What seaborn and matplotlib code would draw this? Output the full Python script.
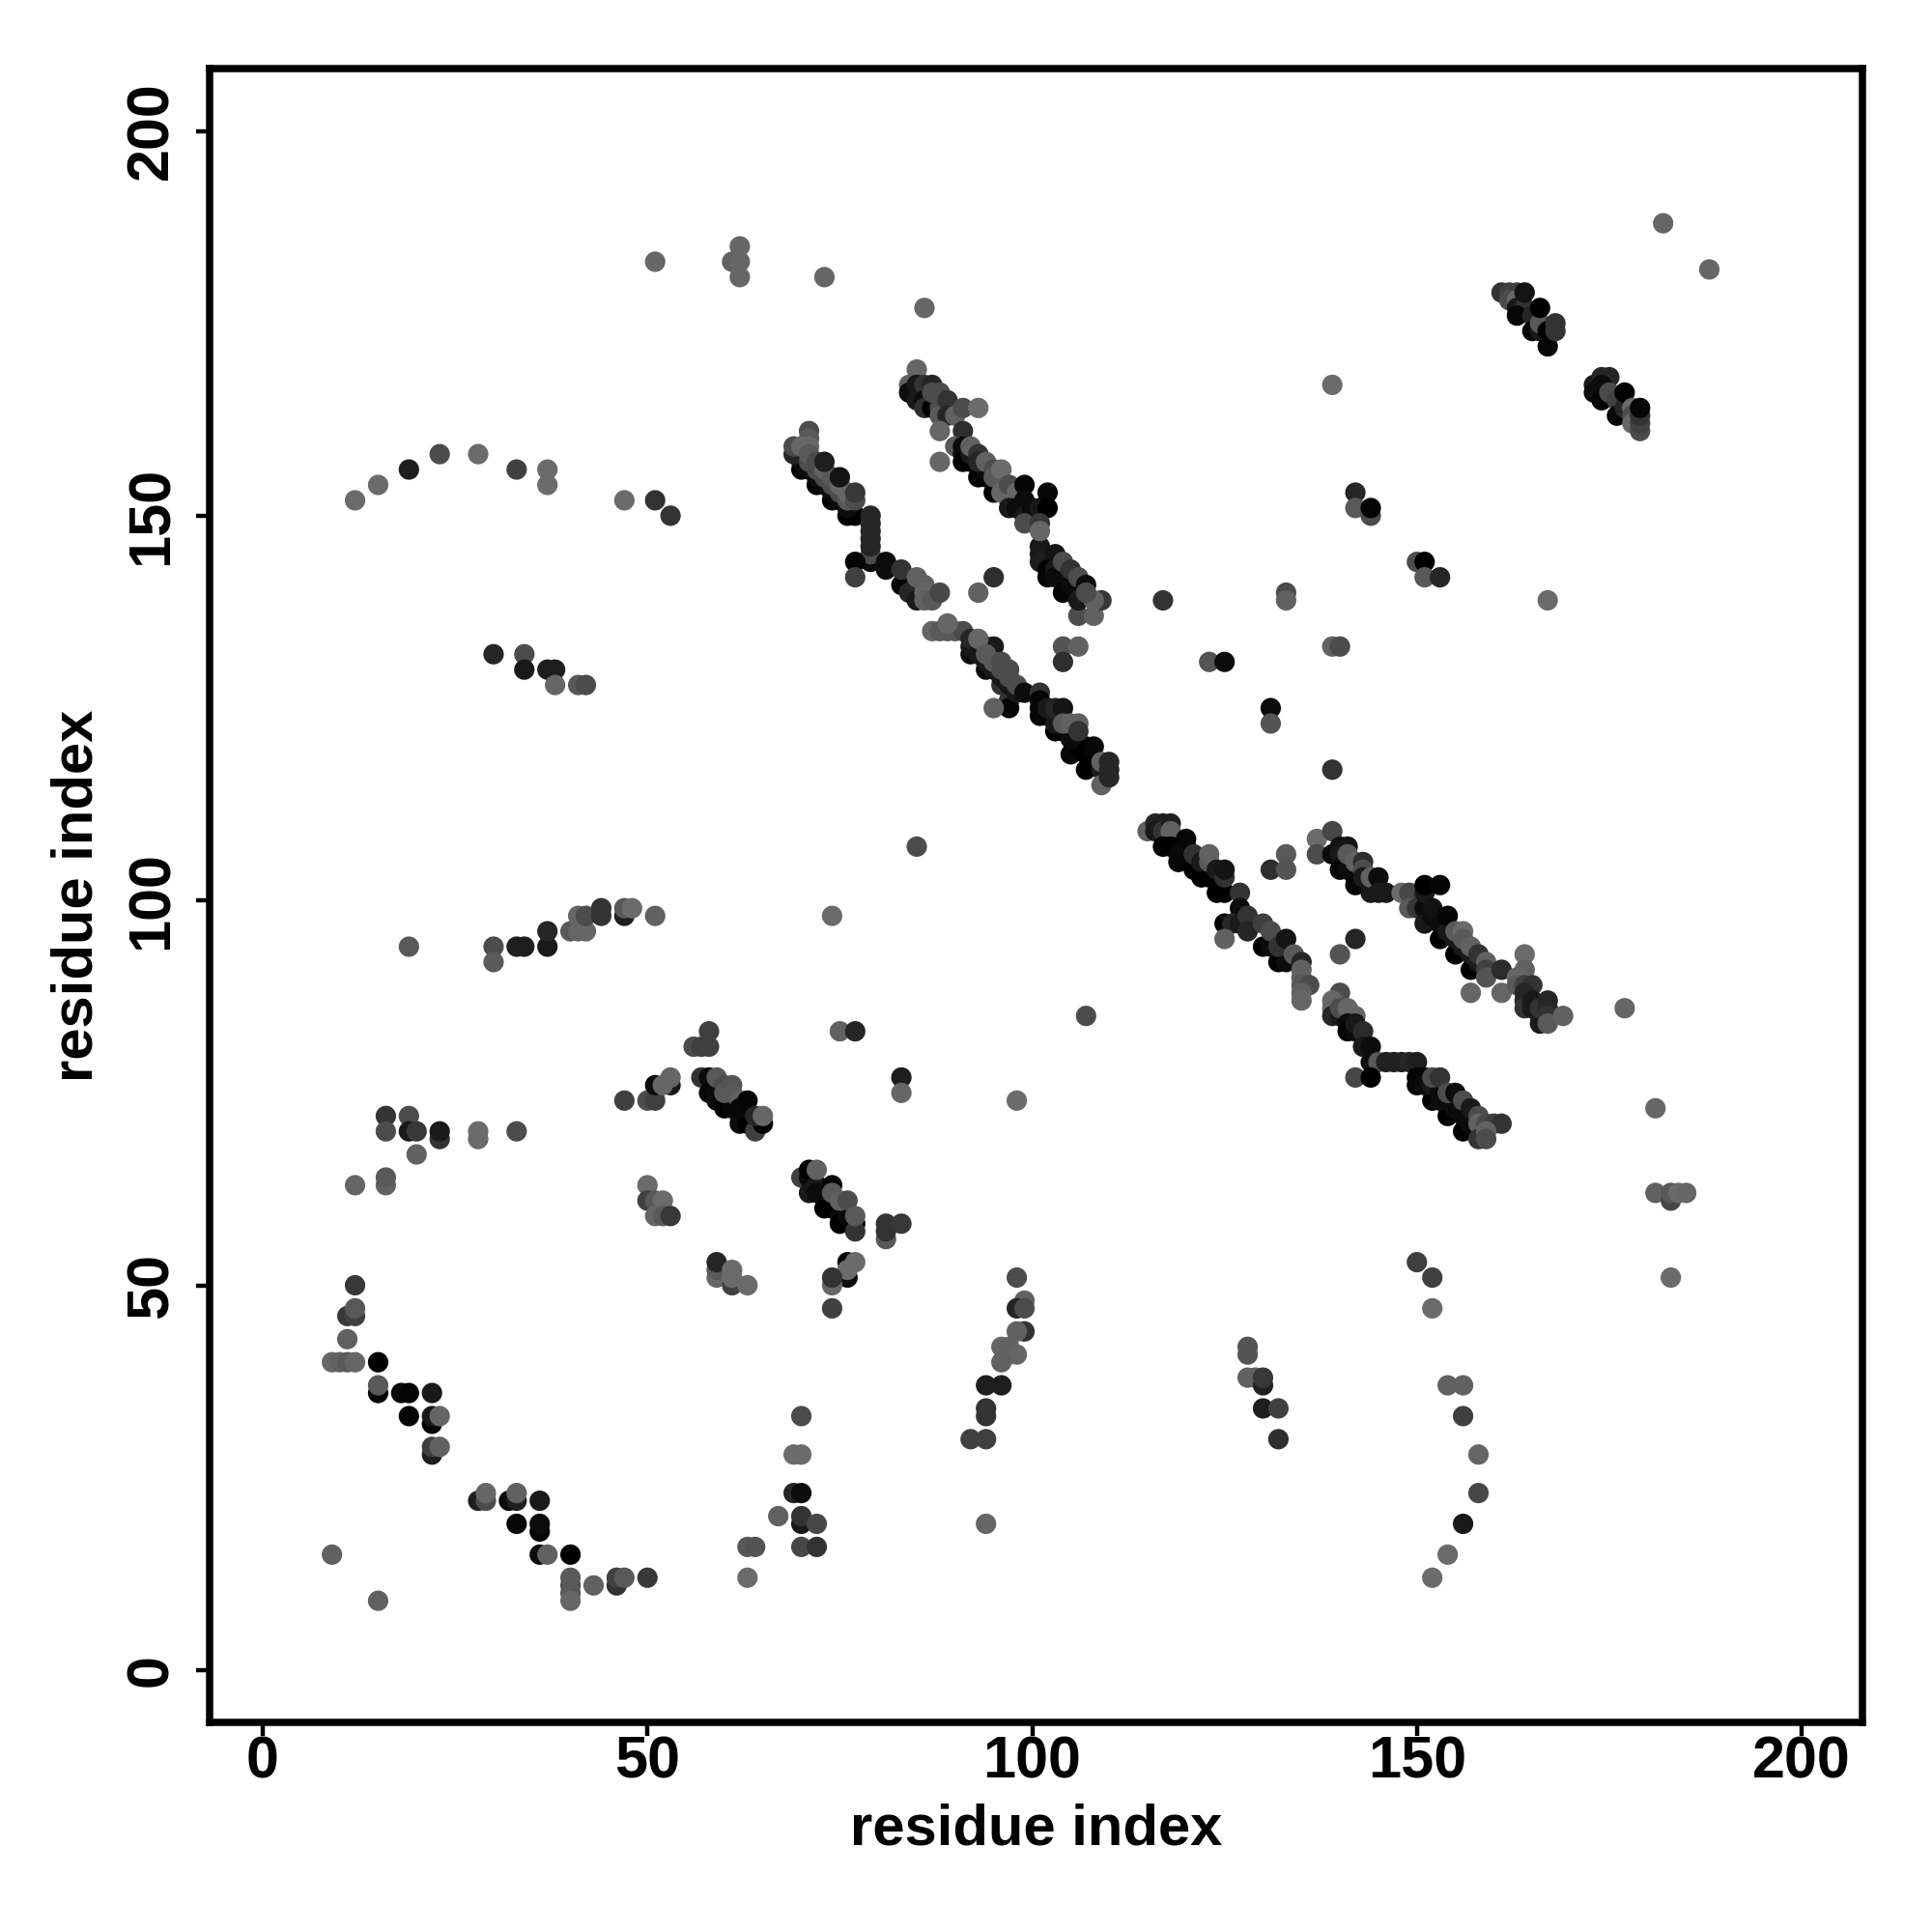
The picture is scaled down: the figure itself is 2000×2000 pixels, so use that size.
# contact map, residue index vs residue index
import matplotlib
matplotlib.use("Agg")
import matplotlib.pyplot as plt
import pandas as pd
import seaborn as sns

# every point is (residue x, residue y, grey level)
top_points = [(51,183,.4),(61,183,.38),(62,183,.4),(62,185,.4),(62,181,.4),(73,181,.4),(86,177,.4),
              (182,188,.4),(188,182,.4),(139,167,.42),(167,139,.42)]
arc_150 = [(12,152,.42),(15,154,.42),(19,156,.12),(23,158,.3),(28,158,.42),(33,156,.25),(37,156,.42),
           (37,154,.42),(47,152,.42),(51,152,.2),(53,150,.2)]
group_130 = [(30,132,.15),(34,132,.3),(34,130,.1),(37,130,.12),(38,130,.12),(38,128,.4),(41,128,.35),(42,128,.3)]
group_95 = [(19,94,.35),(30,94,.3),(30,92,.35),(33,94,.12),(34,94,.12),(37,94,.1),(37,96,.15),(40,96,.35),
            (41,96,.4),(42,96,.4),(41,98,.4),(42,98,.3),(44,98,.2),(44,99,.2),(47,98,.12),(47,99,.35),
            (48,99,.42),(51,98,.38),(74,98,.42),(85,107,.3)]

band_a = [(70,156,0),(72,154,0),(74,152,0),(76,150,0),(77,150,0),(70,157,.05),(71,156,.05),(72,155,.05),
          (73,154,.05),(74,153,.05),(75,152,.05),(76,151,.05),(69,158,.15),(71,157,.3),(72,156,.3),
          (73,155,.3),(74,154,.3),(75,153,.3),(76,152,.35),(71,161,.3),(71,160,.35),(71,159,.4),(69,159,.3),
          (70,159,.4),(71,158,.35),(72,157,.3),(73,156,.38),(74,155,.35),(75,154,.4),(76,153,.4),
          (73,157,.12),(75,155,.08),(77,152,.3),(77,153,.22),
          (79,144,.05),(79,145,.3),(79,146,.15),(79,147,.15),(79,148,.15),(79,149,.15),(79,150,.15),
          (77,144,.02),(77,142,.25),(81,143,.05),(81,144,.05),(83,141,.03),(84,140,.15),(83,143,.2),(85,139,.1),
          (85,142,.38),(86,141,.38),(86,140,.4),(86,139,.38),(87,139,.35),(88,140,.28),(95,142,.18),(93,140,.38)]

band_b = [(87,135,.4),(88,135,.35),(89,135,.35),(90,135,.35),(91,135,.3),(89,136,.4),
          (92,132,.05),(94,130,.02),(96,128,.2),(97,126,.2),(97,125,.02),(95,125,.38),
          (92,133,.1),(92,134,.15),(93,132,.1),(94,131,.1),(95,130,.1),(96,129,.1),(97,128,.1),(98,127,.1),
          (94,133,.2),(95,133,.1),(93,134,.4),(94,132,.35),(95,131,.35),(96,131,.3),(96,130,.3),(97,130,.3),
          (97,129,.3),(98,128,.3),(99,127,.05),(101,127,.2),
          (101,126,.02),(101,124,.02),(103,122,0),(105,119,.03),(107,117,0),(107,120,0),(102,124,.02),(104,122,.02),
          (106,120,0),(108,118,0),(101,125,.02),(102,125,.1),(103,123,.1),(105,121,.05),(107,119,0),(109,117,.1),
          (103,125,.15),(104,125,.08),(104,123,.35),(105,123,.38),(106,123,.38),(106,122,.2),(108,120,.03),
          (109,115,.38),(109,118,.38),(110,118,.15),(110,117,.15),(110,116,.15),
          (104,133,.33),(106,133,.38),(104,131,.18),(106,137,.3),(108,137,.38),(109,139,.22),(117,139,.2)]

band_c = [(101,146,.1),(101,145,.1),(101,144,.12),(103,145,.08),(102,143,.02),(102,142,.02),(103,143,.1),(104,142,.05),
          (103,142,.05),(104,140,.02),(105,141,.05),(106,140,.05),(104,144,.3),(105,143,.2),(106,142,.3),(107,141,.05),
          (106,139,.1),(108,139,.38),(107,140,.3)]

band_d = [(85,169,.4),(84,167,.38),(84,166,.05),(85,167,.1),(85,165,.1),(86,167,.2),(87,167,.15),(86,165,.05),
          (86,164,.18),(87,164,0),(87,166,.3),(88,166,.3),(88,164,.3),(88,163,.35),(89,165,.2),(89,163,.15),
          (90,163,.38),(91,164,.3),(93,164,.42),(88,161,.4),(91,161,.18),(90,159,.35),(91,159,.05),(91,158,.05),
          (92,157,.02),(93,155,0),(91,157,0),(92,158,.1),(94,155,.02),(95,153,0),(94,156,.05),(96,154,.02),
          (97,152,.1),(97,153,.05),(98,152,.05),(92,159,.38),(93,158,.2),(93,157,.15),(94,157,.38),(95,156,.3),
          (95,155,.35),(96,153,.4),(96,156,.42),(97,154,.3),(88,157,.4),(98,153,.4),(99,154,.02),(97,151,.1),
          (98,151,.05),(99,152,.05),(99,150,.1),(100,151,.05),(100,150,.05),(101,151,.1),(102,153,.03),(102,151,0),
          (99,149,.3),(101,149,.22),(101,148,.4)]

scatter_mid = [(133,140,.3),(133,139,.38),(123,131,.33),(125,131,.05),(139,133,.38),(140,133,.3),(131,125,.05),
               (131,123,.33),(139,117,.2),(142,153,.15),(142,151,.35),(144,150,.3),(144,151,.02),(150,144,.3),
               (151,144,0),(151,142,.35),(153,142,.15)]

band_e = [(115,109,.38),(116,110,.15),(117,110,.12),(116,109,.1),(117,109,.2),(118,110,.12),(118,109,.38),
          (117,107,0),(118,107,0),(119,105,.03),(119,106,.03),(120,107,.05),(120,108,.03),(121,104,0),(121,106,.2),
          (122,103,0),(122,105,.1),(123,103,0),(123,105,.35),(123,106,.38),(124,101,0),(124,103,0),(124,104,.1),(125,101,0),
          (125,103,.2),(125,104,.08),(127,101,.2),
          (127,99,.05),(125,97,.03),(126,97,.15),(127,97,.1),(125,95,.38),(128,98,.2),(128,96,.15),
          (130,94,0),(132,92,0),(131,94,.05),(133,92,.05),(130,97,.25),(131,96,.3),(132,94,.2),(133,95,.08),(134,93,.35),
          (135,92,.15),(135,91,.38),(135,90,.38),(135,89,.35),(136,89,.3),(135,88,.38),(135,87,.4),
          (131,104,.18),(133,106,.35),(133,104,.33),(142,95,.15),(140,93,.33)]

band_f = [(137,108,.42),(137,106,.3),(139,109,.28),(139,106,.05),(140,107,.07),(141,107,.08),(140,106,.1),
          (140,104,.03),(141,104,.05),(141,106,.35),(142,103,.05),(142,102,.02),(142,105,.38),(143,105,.18),(143,104,.3),
          (143,103,.1),(144,101,.1),(144,103,.38),(145,103,.05),(145,101,.1),(146,101,.1),
          (148,101,.42),(149,101,.28),(149,99,.35),(150,99,.22),(151,99,.05),(151,97,.1),(152,98,.05),
          (153,95,0),(155,93,0),(157,91,0),(153,97,.05),(154,96,.1),(155,95,.1),(156,94,.1),
          (157,93,.1),(158,92,.1),(151,101,.1),(151,102,0),(153,102,.02),(152,99,.07),(154,98,.02),(155,96,.35),
          (156,96,.42),(156,95,.35),(157,94,.38),(158,93,.2),(159,92,.38),(159,91,.25),(159,90,.33),(161,91,.17),
          (157,88,.4),(161,88,.4)]

band_g = [(164,93,.42),(164,91,.38),(163,90,.4),(163,89,.35),(164,89,.25),(165,89,.2),(164,88,.15),(164,87,.15),
          (164,86,.2),(165,87,.1),(165,86,.1),(166,85,.1),(166,84,.1),(166,86,.2),(167,87,.15),(167,86,.15),
          (167,85,.2),(167,84,.35),(169,85,.38)]

band_h = [(140,88,.3),(139,87,.4),(139,86,.4),(139,85,.15),(140,85,.1),(140,86,.3),(141,86,.4),(142,85,.4),
          (141,84,.05),(141,83,.02),(142,83,.05),(142,84,.1),(143,83,.17),(143,81,.1),(144,81,.05),(144,79,.05),
          (145,79,.35),(146,79,.13),(147,79,.13),(148,79,.13),(149,79,.15),(150,79,.12),
          (142,77,.28),(144,77,0),(150,77,.02),(150,76,.02),(151,77,.02),(152,74,0),(154,72,0),
          (156,70,0),(151,76,.05),(152,76,.1),(153,75,.05),(154,74,.05),(155,73,.05),(156,72,.05),(157,71,.05),
          (152,77,.3),(153,77,.2),(153,74,.05),(154,75,.3),(155,75,.05),(156,74,.3),(157,73,.1),(158,72,.3),
          (158,71,.38),(159,71,.3),(160,71,.25),(161,71,.2),(158,69,.2),(159,70,.38),(159,69,.3)]

right_lower = [(177,86,.4),(181,73,.4),(181,62,.38),(183,61,.28),(183,62,.35),(184,62,.42),(185,62,.4),(183,51,.42),
               (107,85,.3),(98,74,.42),(150,53,.25),(152,51,.25),(152,47,.42),
               (128,42,.33),(128,41,.33),(128,38,.38),(129,38,.38),(130,37,.13),(130,38,.22),(130,34,.12),(132,34,.25),(132,30,.18),
               (154,37,.38),(156,37,.38),(156,33,.25),(158,28,.4),(158,23,.28),(156,19,.1),(154,15,.42),(152,12,.42)]

arc_mid = [(98,51,.3),(99,48,.38),(98,47,.15),(99,47,.3),(99,44,.2),(98,44,.38),(96,42,.4),(97,42,.38),(97,41,.38),
           (98,41,.4),(96,40,.38),(96,37,.12),(94,37,.12),(94,34,.2),(94,33,.2),(92,30,.25),(94,30,.25),(94,19,.4)]

arc_low = [(12,50,.22),(11,46,.22),(12,46,.25),(12,47,.35),(11,43,.38),(9,40,.4),(10,40,.38),(11,40,.35),(12,40,.4),
           (15,40,0),(15,36,.02),(15,37,.35),(18,36,.05),(19,36,.02),(22,36,.1),(19,33,.02),(22,32,.02),(22,33,.1),(23,33,.4),
           (22,28,.12),(22,29,.25),(23,29,.38),(28,22,.12),(29,22,.3),(29,23,.4),(32,22,.05),(33,22,.12),(33,23,.38),
           (36,22,.1),(33,19,.03),(36,18,.03),(36,19,.05),(36,15,.05),(37,15,.38),(40,15,0),(40,11,.3),(40,12,.35),
           (40,10,.35),(40,9,.4),(43,11,.38),(46,11,.2),(46,12,.25),(47,12,.35),(50,12,.22),(9,15,.38),(15,9,.38),
           (63,16,.35),(64,16,.33),(63,12,.42),(67,20,.38),(69,23,.15),(70,23,.05),(69,28,.42),(70,28,.42),(70,33,.3),
           (70,19,.1),(70,20,.2),(72,19,.28),(70,16,.28),(72,16,.2)]

group_70 = [(16,72,.2),(16,70,.3),(19,72,.3),(19,70,.1),(20,70,.22),(23,69,.2),(23,70,.1),(28,69,.42),(28,70,.42),
            (33,70,.3),(20,67,.38),(12,63,.4),(16,63,.38),(16,64,.35),(50,63,.42),(50,61,.25),(51,61,.35),(52,61,.42),
            (51,59,.4),(52,59,.35),(53,59,.22),(59,51,.4),(59,52,.35),(59,53,.15),(61,50,.25),(61,51,.42),(61,52,.42),
            (63,50,.42),(76,51,.05),(76,53,.02),(76,52,.42),(77,53,.42),(74,50,.4),(74,51,.2),(74,47,.25),
            (81,56,.35),(81,57,.2),(81,58,.2),(83,58,.22)]

band_57 = [(47,74,.25),(50,74,.3),(51,74,.25),(51,76,.05),(53,76,.1),(52,76,.4),(53,77,.4),
           (56,81,.3),(57,81,.25),(58,81,.25),(58,83,.25),(75,83,.38),(77,83,.15),(83,77,.12),(83,75,.4),
           (57,77,.2),(58,77,.05),(58,75,.02),(59,75,.05),(59,74,.05),(60,73,0),(61,73,.03),(62,72,.03),(62,71,.05),
           (63,72,.05),(63,71,0),(64,70,.25),(65,71,0),(59,77,.35),(60,76,.3),(60,75,.35),(61,76,.33),(61,75,.35),
           (62,74,.38),(62,73,.03),(63,74,.02),(64,72,.15),(65,72,.4)]

band_70 = [(70,64,.25),(71,64,.05),(71,62,.1),(71,65,0),(72,63,.1),(72,62,.05),(73,62,.05),(73,60,0),(74,60,0),
           (75,59,.05),(75,58,0),(76,59,.05),(77,58,0),(77,57,.2),(72,65,.38),(74,63,0),(74,62,.35),(75,61,.38),
           (76,61,.3),(77,59,.35)]

band_161 = [(161,179,.2),(162,179,.25),(163,179,.25),(162,178,.3),(163,178,.4),(163,177,.1),(164,177,.2),(163,176,.03),(165,176,.15),
            (164,179,.08),(165,174,.02),(166,174,.1),(166,175,.35),(166,177,0),(167,174,0),(167,172,.03),(168,175,.2),(168,174,.2)]
band_173 = [(173,167,.1),(173,166,.05),(174,168,.15),(175,168,.15),(174,167,.05),(174,165,.02),(175,166,.3),(176,165,.25),
            (176,163,.03),(177,164,.15),(177,166,0),(178,164,.42),(178,163,.3),(178,162,.4),(179,161,.3),(179,162,.25),
            (179,163,.2),(179,164,.02)]

groups = [top_points, arc_150, group_130, group_95, band_a, band_b, band_c, band_d, scatter_mid, band_e, band_f,
          band_g, band_h, right_lower, arc_mid, arc_low, group_70, band_57, band_70, band_161, band_173]
x_ticks = [0, 50, 100, 150, 200]

rows = [p for g in groups for p in g]
data = pd.DataFrame(rows, columns=["x", "y", "grey"])

sns.set_theme(style="white")
plt.rcParams["font.family"] = ["Liberation Sans", "DejaVu Sans"]
plt.rcParams["text.color"] = "black"
plt.rcParams["axes.labelcolor"] = "black"
plt.rcParams["xtick.color"] = "black"
plt.rcParams["ytick.color"] = "black"

fig = plt.figure(figsize=(10, 10), dpi=200)
ax = fig.add_axes([0.1085, 0.1085, 0.8555, 0.856])

sns.scatterplot(data=data, x="x", y="y", hue="grey", palette="gray", hue_norm=(0, 1),
                s=58, linewidth=0, legend=False, ax=ax)

ax.set_xlim(-6.9, 207.9)
ax.set_ylim(-6.8, 208.1)
ax.set_xticks(x_ticks)
ax.set_yticks(x_ticks)
ax.tick_params(axis="x", length=5, width=1.6, pad=0, bottom=True)
ax.tick_params(axis="y", length=5, width=1.6, pad=6, left=True)
for lab in ax.get_xticklabels():
    lab.set_fontsize(22)
    lab.set_fontweight("bold")
for lab in ax.get_yticklabels():
    lab.set_fontsize(22)
    lab.set_fontweight("bold")
    lab.set_rotation(90)
    lab.set_va("center")
for side in ax.spines.values():
    side.set_linewidth(2.7)
    side.set_color("black")

ax.set_xlabel("residue index", fontsize=21.5, fontweight="bold", labelpad=4.5)
ax.set_ylabel("residue index", fontsize=21.5, fontweight="bold", labelpad=8)

fig.savefig("out.png", dpi=200)
